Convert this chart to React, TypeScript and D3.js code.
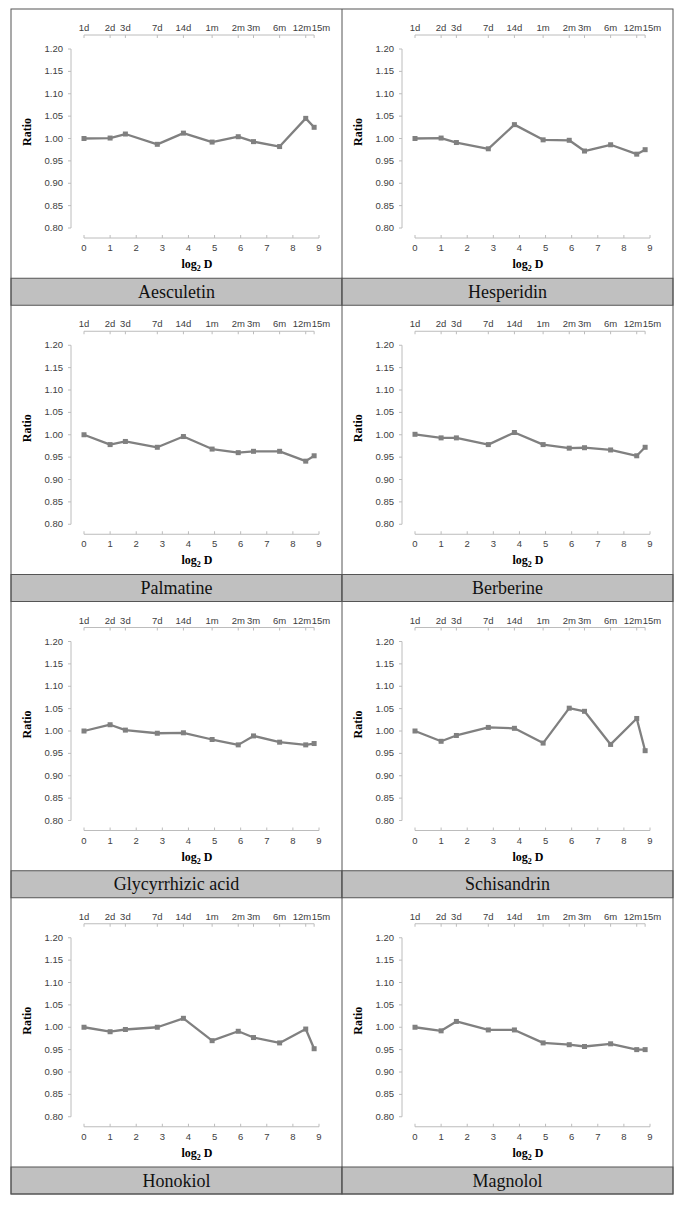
import React from "react";
import * as d3 from "d3";

const timeLabels = ["1d", "2d", "3d", "7d", "14d", "1m", "2m", "3m", "6m", "12m", "15m"];
const timeDays = [1, 2, 3, 7, 14, 30, 60, 90, 180, 360, 450];
const xTicks = [0, 1, 2, 3, 4, 5, 6, 7, 8, 9];
const yTicks = [0.8, 0.85, 0.9, 0.95, 1.0, 1.05, 1.1, 1.15, 1.2];

const compounds = [
  "Aesculetin", "Hesperidin", "Palmatine", "Berberine",
  "Glycyrrhizic acid", "Schisandrin", "Honokiol", "Magnolol",
];

const aesculetin = [1.0, 1.001, 1.01, 0.987, 1.012, 0.992, 1.004, 0.993, 0.982, 1.045, 1.025];
const hesperidin = [1.0, 1.001, 0.991, 0.977, 1.031, 0.997, 0.996, 0.972, 0.986, 0.965, 0.975];
const palmatine = [1.0, 0.978, 0.985, 0.972, 0.996, 0.968, 0.96, 0.963, 0.963, 0.941, 0.953];
const berberine = [1.001, 0.993, 0.993, 0.978, 1.005, 0.978, 0.97, 0.971, 0.966, 0.953, 0.972];
const glycyrrhizic = [1.0, 1.014, 1.002, 0.995, 0.996, 0.981, 0.969, 0.989, 0.975, 0.969, 0.972];
const schisandrin = [1.0, 0.977, 0.99, 1.008, 1.006, 0.973, 1.051, 1.044, 0.97, 1.028, 0.956];
const honokiol = [1.0, 0.99, 0.995, 1.0, 1.02, 0.97, 0.991, 0.977, 0.965, 0.996, 0.952];
const magnolol = [1.0, 0.992, 1.013, 0.994, 0.994, 0.965, 0.961, 0.957, 0.963, 0.95, 0.95];

const seriesList = [aesculetin, hesperidin, palmatine, berberine, glycyrrhizic, schisandrin, honokiol, magnolol];

const T_LEFT = 11, T_RIGHT = 673, T_TOP = 9, T_BOTTOM = 1194;
const COL_W = (T_RIGHT - T_LEFT) / 2;
const ROW_H = (T_BOTTOM - T_TOP) / 4;
const BAR_H = 27;
const AXIS_COLOR = "#bcbcbc";
const TEXT_COLOR = "#404040";
const LINE_COLOR = "#808080";
const SANS = "'Liberation Sans Narrow', 'Liberation Sans', Arial, sans-serif";
const SERIF = "'Liberation Serif', 'Times New Roman', serif";

function Cell({ idx }: { idx: number }) {
  const col = idx % 2;
  const row = Math.floor(idx / 2);
  const cx = T_LEFT + col * COL_W;
  const cy = T_TOP + row * ROW_H;
  const x = d3.scaleLinear().domain([0, 9]).range([cx + 73, cx + 308]);
  const y = d3.scaleLinear().domain([0.8, 1.2]).range([cy + 219, cy + 40]);
  const yAxisX = cx + 60;
  const xAxisY = cy + 229;
  const topAxisY = cy + 26;
  const values = seriesList[idx];
  const pts = values.map((v, i) => [Math.log2(timeDays[i]), v] as [number, number]);
  const line = d3.line<[number, number]>().x((d) => x(d[0])).y((d) => y(d[1]));
  const xMaxTop = Math.log2(timeDays[timeDays.length - 1]);
  const barTop = cy + ROW_H - BAR_H;
  const ms = 5;
  const n = timeDays.length;
  return (
    <g>
      {/* top axis */}
      <line x1={x(0)} x2={x(xMaxTop)} y1={topAxisY} y2={topAxisY} stroke={AXIS_COLOR} strokeWidth={1} />
      {timeDays.map((d, i) => {
        const tx = x(Math.log2(d));
        let anchor = "middle";
        let lx = tx;
        if (i === n - 2) { anchor = "end"; lx = tx + 5.5; }
        if (i === n - 1) { anchor = "start"; lx = tx - 2.5; }
        return (
          <g key={"tt" + i}>
            <line x1={tx} x2={tx} y1={topAxisY} y2={topAxisY + 3} stroke={AXIS_COLOR} />
            <text x={lx} y={topAxisY - 4} fontSize={9.5} fontFamily={SANS} fill={TEXT_COLOR} textAnchor={anchor}>
              {timeLabels[i]}
            </text>
          </g>
        );
      })}
      {/* y axis */}
      <line x1={yAxisX} x2={yAxisX} y1={y(1.2)} y2={y(0.8)} stroke={AXIS_COLOR} />
      {yTicks.map((t) => (
        <g key={"yt" + t}>
          <line x1={yAxisX - 3} x2={yAxisX} y1={y(t)} y2={y(t)} stroke={AXIS_COLOR} />
          <text x={yAxisX - 8} y={y(t) + 3} fontSize={9.5} fontFamily={SANS} fill={TEXT_COLOR} textAnchor="end">
            {t.toFixed(2)}
          </text>
        </g>
      ))}
      {/* x axis */}
      <line x1={x(0)} x2={x(9)} y1={xAxisY} y2={xAxisY} stroke={AXIS_COLOR} />
      {xTicks.map((t) => (
        <g key={"xt" + t}>
          <line x1={x(t)} x2={x(t)} y1={xAxisY - 3} y2={xAxisY} stroke={AXIS_COLOR} />
          <text x={x(t)} y={xAxisY + 13} fontSize={9.5} fontFamily={SANS} fill={TEXT_COLOR} textAnchor="middle">
            {t}
          </text>
        </g>
      ))}
      {/* axis titles */}
      <text
        transform={`translate(${cx + 20},${cy + 123}) rotate(-90)`}
        fontSize={12}
        fontWeight="bold"
        fontFamily={SERIF}
        textAnchor="middle"
        fill="#000"
      >
        Ratio
      </text>
      <text x={cx + 186} y={cy + 259} fontSize={12} fontWeight="bold" fontFamily={SERIF} textAnchor="middle" fill="#000">
        log<tspan fontSize={8} dy={3}>2</tspan>
        <tspan dy={-3}> D</tspan>
      </text>
      {/* series */}
      <path d={line(pts) || ""} fill="none" stroke={LINE_COLOR} strokeWidth={2.3} strokeLinejoin="round" />
      {pts.map((p, i) => (
        <rect key={"m" + i} x={x(p[0]) - ms / 2} y={y(p[1]) - ms / 2} width={ms} height={ms} fill={LINE_COLOR} />
      ))}
      {/* label bar */}
      <rect x={cx} y={barTop} width={COL_W} height={BAR_H} fill="#c0c0c0" stroke="#555" strokeWidth={1} />
      <text x={cx + COL_W / 2} y={barTop + 19.5} fontSize={18} fontFamily={SERIF} textAnchor="middle" fill="#111">
        {compounds[idx]}
      </text>
    </g>
  );
}

export default function App() {
  return (
    <svg
      width={685}
      height={1207}
      style={{ position: "absolute", left: 0, top: 0, background: "#fff" }}
    >
      <rect x={0} y={0} width={685} height={1207} fill="#fff" />
      {compounds.map((_, i) => (
        <Cell key={i} idx={i} />
      ))}
      <rect x={T_LEFT} y={T_TOP} width={T_RIGHT - T_LEFT} height={T_BOTTOM - T_TOP} fill="none" stroke="#555" strokeWidth={1} />
      <line x1={T_LEFT + COL_W} x2={T_LEFT + COL_W} y1={T_TOP} y2={T_BOTTOM} stroke="#555" strokeWidth={1} />
    </svg>
  );
}
